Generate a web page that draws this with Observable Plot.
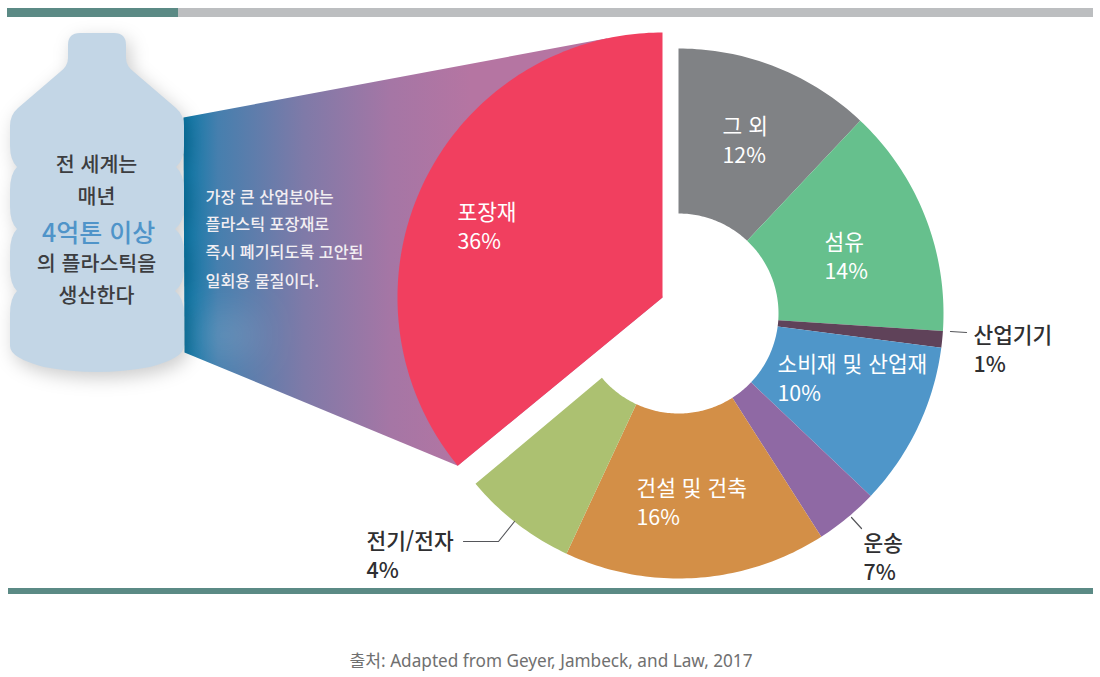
<!DOCTYPE html>
<html lang="ko"><head><meta charset="utf-8">
<script src="https://cdn.jsdelivr.net/npm/d3@7"></script>
<script src="https://cdn.jsdelivr.net/npm/@observablehq/plot@0.6"></script>
<style>
html,body{margin:0;padding:0;background:#fff;width:1100px;height:677px;overflow:hidden}
svg{display:block}
#cap{position:absolute;left:0;width:1102px;top:650px;text-align:center;font:17.2px "Noto Sans","Noto Sans CJK KR",sans-serif;color:#707070;line-height:22px}
</style></head><body>
<div id="chart"></div>
<div id="cap">출처: Adapted from Geyer, Jambeck, and Law, 2017</div>
<script>
// ---- data ----
const sliceNames = ["그 외","섬유","산업기기","소비재 및 산업재","운송","건설 및 건축","전기/전자"];
const slicePercents = [12,14,1,10,7,16,4];
const sliceAngleEdges = [0,43.3,93.8,97.4,133.5,147.4,205,230];
const sliceColors = ["#808285","#66c08d","#5f4259","#4f96c9","#8f69a4","#d38f47","#acc171"];
const leadName = "포장재";
const leadPercent = 36;
const leadAngles = [230.6,360];
const leadColor = "#f13f5f";
const bottleLines = ["전 세계는","매년","4억톤 이상","의 플라스틱을","생산한다"];
const noteLines = ["가장 큰 산업분야는","플라스틱 포장재로","즉시 폐기되도록 고안된","일회용 물질이다."];

// ---- layout ----
const W = 1100, H = 620;
const donut = {cx:678, cy:313, r0:100, r1:265};
const lead = {cx:662, cy:297, r:265};
const labelPos = [[722,139,"#fff"],[824,255,"#fff"],[973,348,"#2f2f31"],[777,377,"#fff"],[863,556,"#2f2f31"],[636,501,"#fff"],[366,554,"#2f2f31"]];
const leadLabelPos = [457,225];
const bottleY = [165,197,233,264,296];
const noteY = [197,224,252,281];

const polar = (cx,cy,r,deg) => { const a = deg*Math.PI/180; return [cx+r*Math.sin(a), cy-r*Math.cos(a)]; };
function arcPts(cx,cy,r,a0,a1){ const n=Math.max(2,Math.ceil(Math.abs(a1-a0))); return d3.range(n+1).map(i=>polar(cx,cy,r,a0+(a1-a0)*i/n)); }

const rings = sliceNames.flatMap((name,i)=>{
  const a0=sliceAngleEdges[i], a1=sliceAngleEdges[i+1];
  return [...arcPts(donut.cx,donut.cy,donut.r1,a0,a1),...arcPts(donut.cx,donut.cy,donut.r0,a1,a0)].map(([x,y])=>({name,x,y}));
});
const leadPts = [[lead.cx,lead.cy],...arcPts(lead.cx,lead.cy,lead.r,leadAngles[0],leadAngles[1])].map(([x,y])=>({name:leadName,x,y}));
const tipTop = polar(lead.cx,lead.cy,lead.r,348), tipBottom = polar(lead.cx,lead.cy,lead.r,leadAngles[0]);
const funnel = [[183,117],tipTop,[lead.cx,lead.cy],tipBottom,[184,352]].map(([x,y])=>({x,y}));

const labels = sliceNames.map((n,i)=>({t:n+"\n"+slicePercents[i]+"%",x:labelPos[i][0],y:labelPos[i][1],c:labelPos[i][2]}));
labels.push({t:leadName+"\n"+leadPercent+"%",x:leadLabelPos[0],y:leadLabelPos[1],c:"#fff"});

const leaders = [
  {k:"a",x:463,y:541},{k:"a",x:498,y:541},{k:"a",x:514,y:521},
  {k:"b",x:966,y:332},{k:"b",x:950,y:331},
  {k:"c",x:861,y:528},{k:"c",x:851,y:517}
];
const bars = [
  {x1:7,x2:178,y1:8,y2:17,c:"#5b8a85"},
  {x1:178,x2:1093,y1:8,y2:17,c:"#bcbec0"},
  {x1:8,x2:1093,y1:588,y2:594,c:"#5b8a85"}
];

const defs = () => {
  const g = d3.create("svg:defs");
  const lg = g.append("linearGradient").attr("id","funnelGrad").attr("gradientUnits","userSpaceOnUse")
    .attr("x1",183).attr("x2",470).attr("y1",0).attr("y2",0);
  [[0,"#0a79a8"],[0.12,"#467fae"],[0.42,"#7f7aa8"],[0.72,"#a576a5"],[1,"#b575a2"]].forEach(([o,c])=>lg.append("stop").attr("offset",o).attr("stop-color",c));
  const f = g.append("filter").attr("id","soft").attr("x","-30%").attr("y","-30%").attr("width","160%").attr("height","160%");
  f.append("feGaussianBlur").attr("stdDeviation",9);
  const f2 = g.append("filter").attr("id","glow").attr("x","-100%").attr("y","-100%").attr("width","300%").attr("height","300%");
  f2.append("feGaussianBlur").attr("stdDeviation",18);
  g.append("clipPath").attr("id","funnelClip").append("polygon").attr("points",funnel.map(d=>d.x+","+d.y).join(" "));
  return g.node();
};
const glow = () => {
  const g = d3.create("svg:g").attr("clip-path","url(#funnelClip)");
  g.append("ellipse").attr("cx",225).attr("cy",335).attr("rx",34).attr("ry",26).attr("fill","#fff").attr("fill-opacity",0.13).attr("filter","url(#glow)");
  return g.node();
};
const bottlePath = "M80 33 H114 Q126 33 126 45 V58 Q126 66 134 72 L176 108 Q184 115 184 126 V146 Q184 160 176 167 Q184 174 184 190 V207 Q184 222 175 229 Q184 236 184 252 V269 Q184 284 175 291 Q184 298 184 314 V346 Q184 358 150 367 Q97 377 44 367 Q10 358 10 346 V314 Q10 298 17 291 Q10 284 10 269 V252 Q10 236 17 229 Q10 222 10 207 V190 Q10 174 17 167 Q10 160 10 146 V126 Q10 115 18 108 L60 72 Q68 66 68 58 V45 Q68 33 80 33 Z";
const bottle = () => {
  const g = d3.create("svg:g");
  g.append("path").attr("d",bottlePath).attr("transform","translate(4,6)").attr("fill","#000").attr("fill-opacity",0.2).attr("filter","url(#soft)");
  g.append("path").attr("d",bottlePath).attr("fill","#c3d6e6");
  return g.node();
};

const font = '"Noto Sans CJK KR","Noto Sans",sans-serif';
const labelOpts = {x:"x",y:"y",text:"t",fill:d=>d.c,textAnchor:"start",lineAnchor:"middle",lineHeight:1.31,fontSize:21.4,fontFamily:font};
const plot = Plot.plot({
  width:W, height:H, margin:0,
  style:{background:"transparent"},
  x:{domain:[0,W],range:[0,W],axis:null},
  y:{domain:[0,H],range:[0,H],axis:null},
  color:{domain:[...sliceNames,leadName],range:[...sliceColors,leadColor]},
  marks:[
    defs,
    Plot.rect(bars,{x1:"x1",x2:"x2",y1:"y1",y2:"y2",fill:d=>d.c}),
    Plot.line(funnel,{x:"x",y:"y",fill:"url(#funnelGrad)",stroke:"none",curve:"linear-closed"}),
    glow,
    bottle,
    Plot.line(leadPts,{x:"x",y:"y",z:"name",fill:"name",stroke:"none",curve:"linear-closed"}),
    Plot.line(rings,{x:"x",y:"y",z:"name",fill:"name",stroke:"none",curve:"linear-closed"}),
    Plot.line(leaders,{x:"x",y:"y",z:"k",stroke:"#55565a",strokeWidth:1.2,curve:"linear"}),
    Plot.text(labels.filter(d=>d.c==="#fff"),{...labelOpts,fontWeight:400}),
    Plot.text(labels.filter(d=>d.c!=="#fff"),{...labelOpts,fontWeight:500}),
    Plot.text(bottleLines,{x:bottleLines.map((_,i)=>i===2?98:96),y:bottleY,text:d=>d,fill:(d,i)=>i===2?"#4f94c9":"#3c3d40",fontSize:bottleLines.map((_,i)=>i===2?25:20.6),lineAnchor:"middle",fontFamily:font,fontWeight:500}),
    Plot.text(noteLines,{x:noteLines.map(()=>205),y:noteY,text:d=>d,fill:"#f2eef2",textAnchor:"start",lineAnchor:"middle",fontSize:16.2,fontFamily:font,fontWeight:500})
  ]
});
document.getElementById("chart").append(plot);
</script>
</body></html>
